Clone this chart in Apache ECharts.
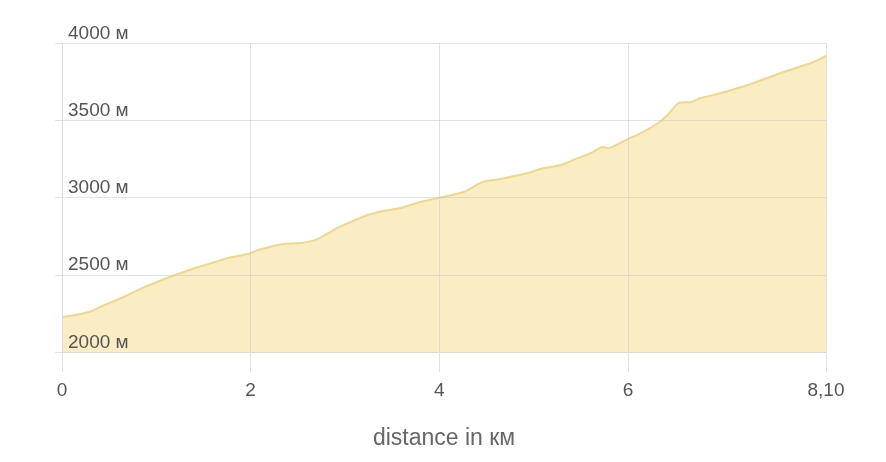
<!DOCTYPE html>
<html>
<head>
<meta charset="utf-8">
<script src="https://cdn.jsdelivr.net/npm/echarts@6/dist/echarts.min.js"></script>
<style>html,body{margin:0;padding:0;background:#fff;}#c{width:886px;height:462px;}</style>
</head>
<body>
<div id="c"></div>
<script>
const distanceKm = [0.00,0.14,0.32,0.38,0.53,0.70,0.88,1.06,1.23,1.41,1.62,1.76,1.97,2.08,2.34,2.53,2.71,2.92,3.06,3.24,3.41,3.59,3.80,3.99,4.26,4.46,4.65,4.94,5.07,5.29,5.42,5.61,5.73,5.79,6.00,6.14,6.32,6.42,6.54,6.67,6.77,6.91,7.27,7.62,7.97,8.10];
const elevationM = [2227,2239,2265,2285,2324,2369,2421,2466,2505,2544,2582,2608,2634,2660,2699,2705,2731,2803,2841,2887,2913,2932,2971,2997,3036,3100,3120,3158,3184,3210,3243,3288,3327,3320,3379,3417,3482,3534,3612,3618,3644,3663,3728,3806,3877,3916];
const xTicks = [0,2,4,6,8.1];
const xTickLabels = ['0','2','4','6','8,10'];
const yTicks = [2000,2500,3000,3500,4000];

const chart = echarts.init(document.getElementById('c'));
chart.setOption({
  animation: false,
  grid: {left: 62, right: 60, top: 43, bottom: 110, containLabel: false},
  xAxis: {
    type: 'value', min: 0, max: 8.1, z: 3,
    name: 'distance in км', nameLocation: 'middle', nameGap: 75,
    nameTextStyle: {color: '#666', fontSize: 23, fontFamily: 'Liberation Sans, Arial, sans-serif'},
    axisLine: {show: true, lineStyle: {color: '#d8d8d8', width: 1}},
    axisTick: {show: true, length: 20, customValues: xTicks, lineStyle: {color: '#e3e3e3'}},
    axisLabel: {
      customValues: xTicks, margin: 29, color: '#555', fontSize: 19,
      fontFamily: 'Liberation Sans, Arial, sans-serif',
      formatter: function (v) { const i = xTicks.indexOf(v); return i >= 0 ? xTickLabels[i] : ''; }
    },
    splitLine: {show: true, lineStyle: {color: 'rgba(200,200,200,0.5)', width: 1}}
  },
  yAxis: {
    type: 'value', min: 2000, max: 4000, interval: 500, z: 3,
    axisLine: {show: true, lineStyle: {color: '#ddd', width: 1}},
    axisTick: {show: true, length: 7, customValues: yTicks, lineStyle: {color: '#e3e3e3'}},
    axisLabel: {
      inside: true, margin: 6, color: '#555', fontSize: 19, verticalAlign: 'bottom',
      fontFamily: 'Liberation Sans, Arial, sans-serif',
      showMinLabel: true, showMaxLabel: true, hideOverlap: false,
      customValues: yTicks,
      formatter: function (v) { return String(v) + ' м'; }
    },
    splitLine: {show: true, lineStyle: {color: 'rgba(200,200,200,0.5)', width: 1}}
  },
  series: [{
    type: 'line',
    data: distanceKm.map((d, i) => [d, elevationM[i]]),
    showSymbol: false,
    smooth: 0.2,
    lineStyle: {color: '#efd88e', width: 2},
    areaStyle: {color: '#faedc4', opacity: 1},
    z: 1
  }]
});
</script>
</body>
</html>
